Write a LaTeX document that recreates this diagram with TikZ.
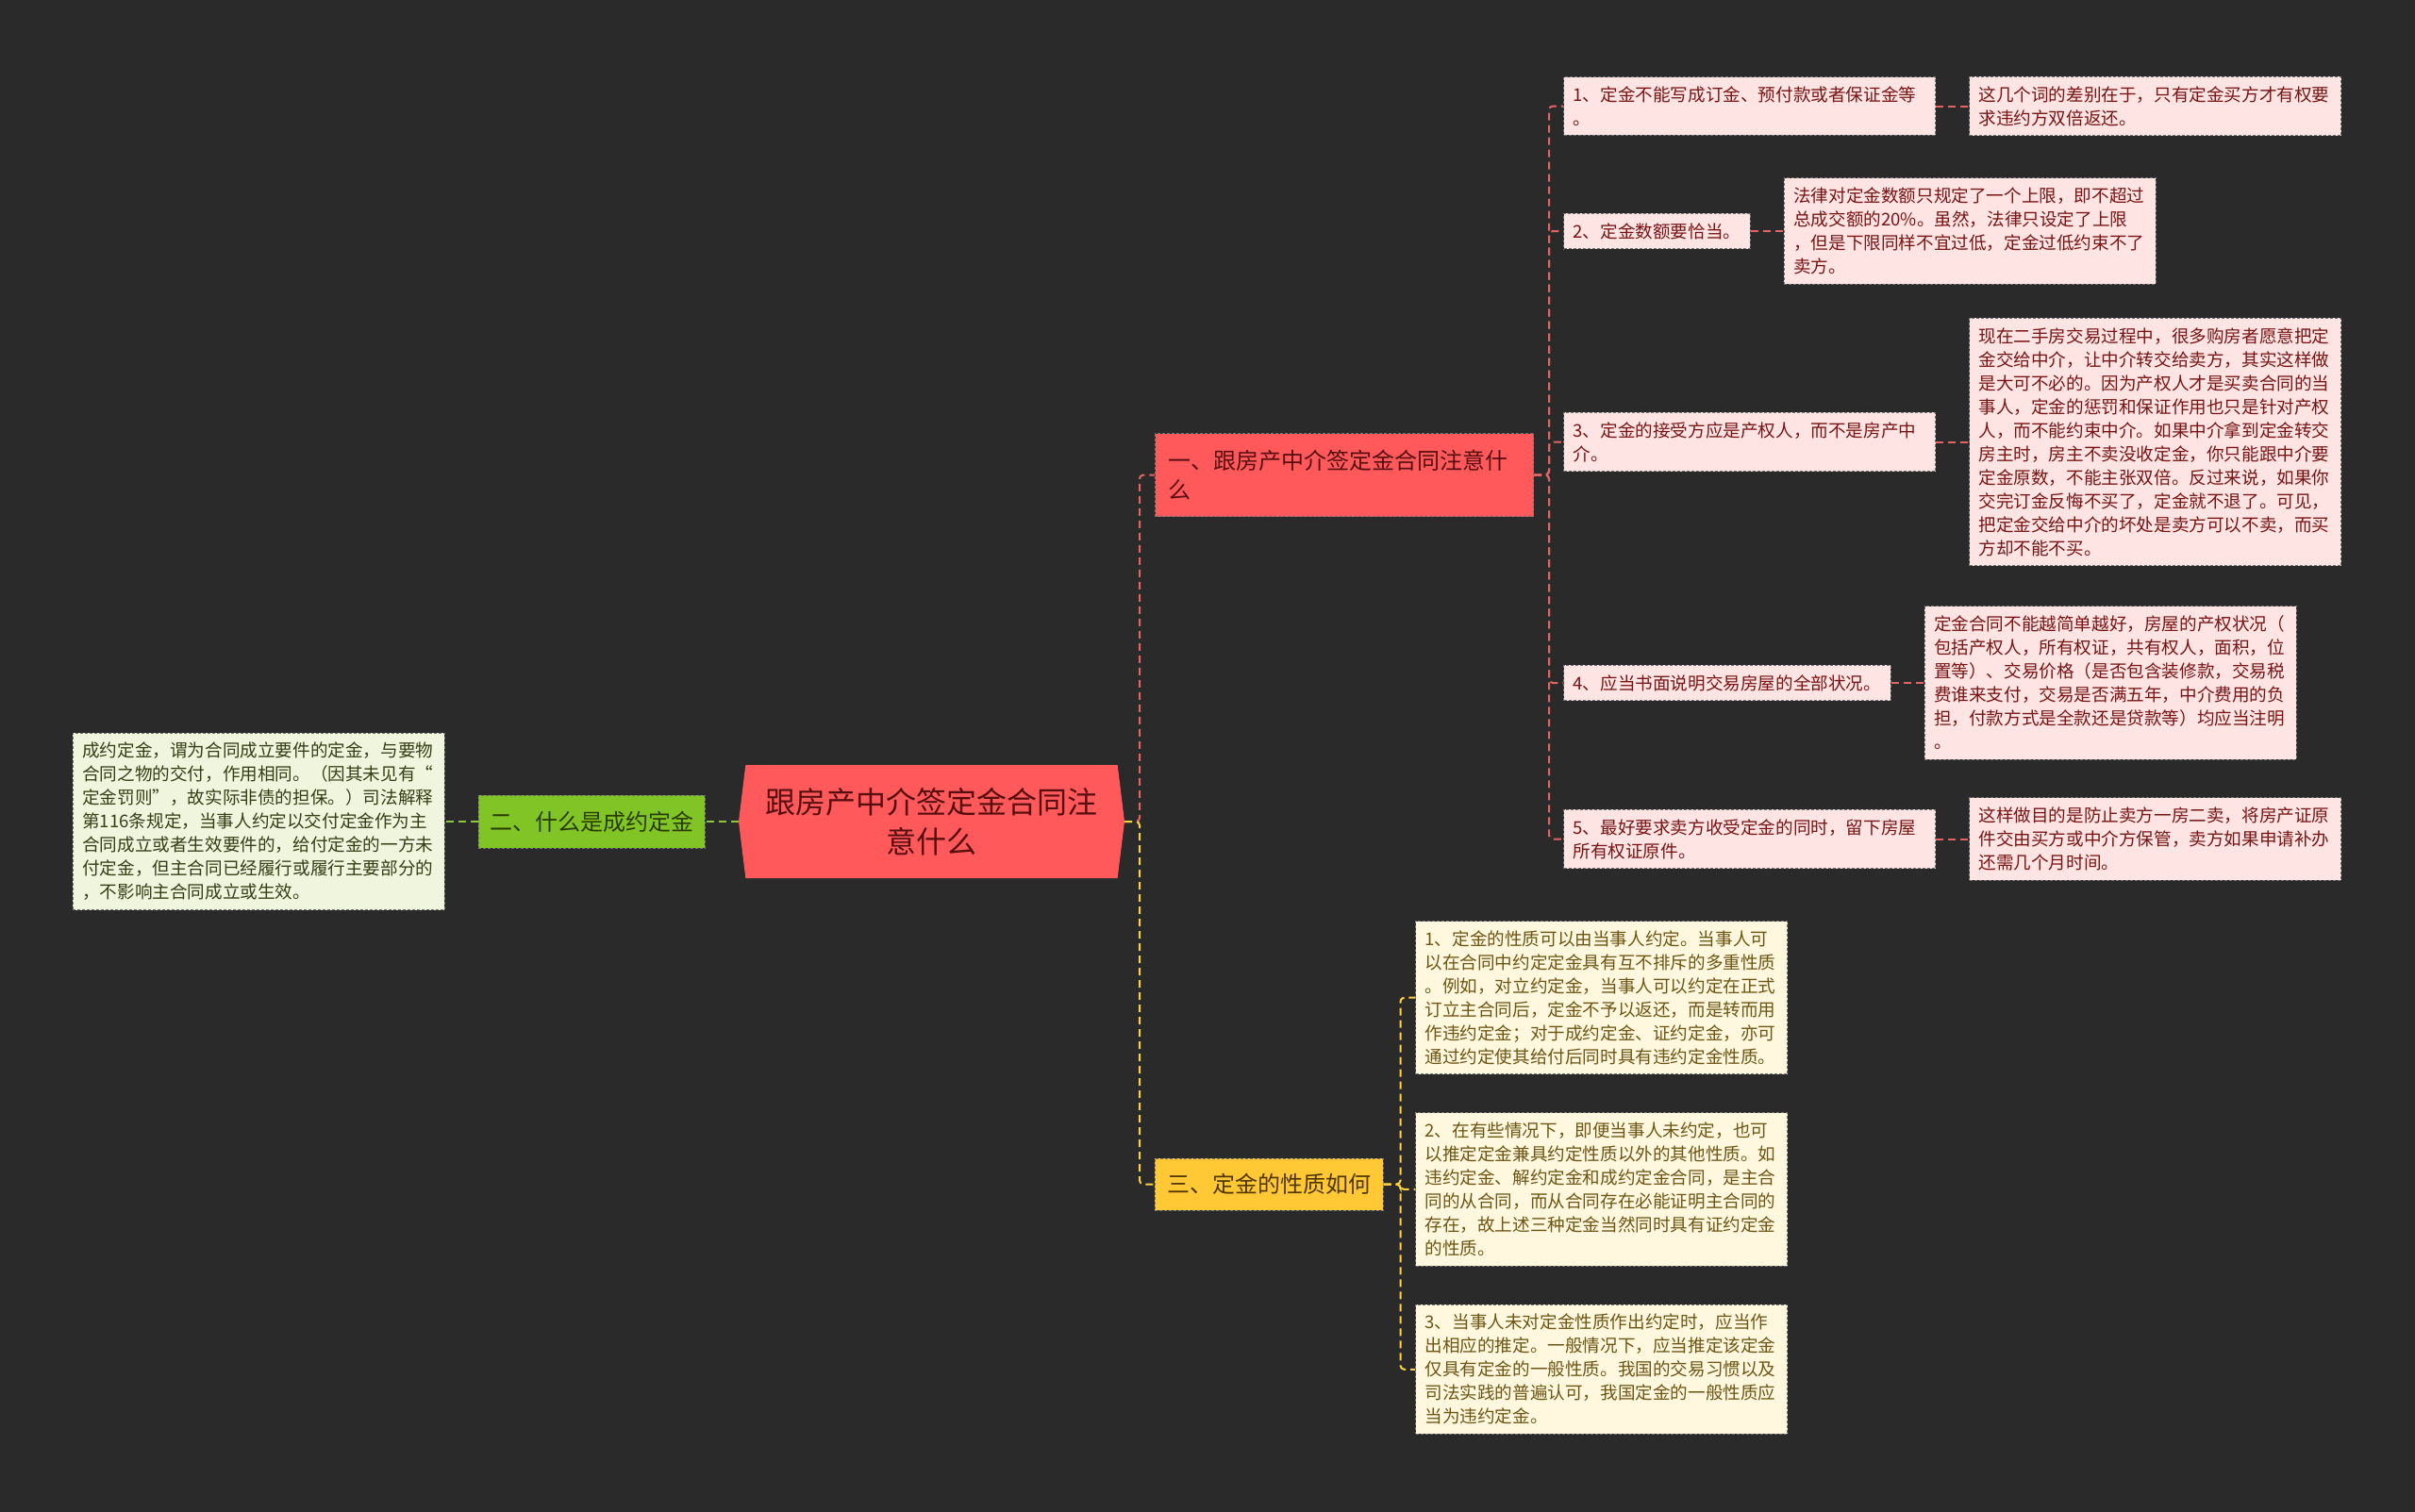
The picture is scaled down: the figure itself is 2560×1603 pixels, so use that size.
\documentclass[tikz,border=0pt]{standalone}
\usepackage{fontspec}
\setmainfont{Noto Sans CJK SC}
\usetikzlibrary{positioning,shapes.symbols}

\definecolor{bgcol}{RGB}{42,42,42}
\definecolor{rootred}{RGB}{255,89,92}
\definecolor{roottext}{RGB}{88,14,14}
\definecolor{pinkfill}{RGB}{255,228,228}
\definecolor{pinktext}{RGB}{120,20,20}
\definecolor{grnfill}{RGB}{128,196,38}
\definecolor{grntext}{RGB}{40,60,0}
\definecolor{paleGrn}{RGB}{240,246,222}
\definecolor{paleGrnText}{RGB}{52,62,22}
\definecolor{yelfill}{RGB}{255,200,52}
\definecolor{yeltext}{RGB}{80,55,0}
\definecolor{paleYel}{RGB}{255,248,222}
\definecolor{paleYelText}{RGB}{110,85,20}
\definecolor{clrRed}{RGB}{228,100,100}
\definecolor{clrGrn}{RGB}{140,200,60}
\definecolor{clrYel}{RGB}{255,210,60}

\newcommand{\leaffont}{\fontsize{18.6}{25}\selectfont}
\newcommand{\branchfont}{\fontsize{24}{31}\selectfont}
\newcommand{\rootfont}{\fontsize{32}{42}\selectfont}

\tikzset{
  leafbox/.style={draw=black!55, dash pattern=on 3pt off 2pt, line width=1pt,
    inner xsep=10pt, inner ysep=10pt, align=left, font=\leaffont},
  pinkbox/.style={leafbox, fill=pinkfill, text=pinktext},
  greenbox/.style={leafbox, fill=paleGrn, text=paleGrnText},
  yellowbox/.style={leafbox, fill=paleYel, text=paleYelText},
  branchbox/.style={draw=black!55, dash pattern=on 3pt off 2pt, line width=1pt,
    font=\branchfont, inner sep=0pt},
  reddash/.style={draw=clrRed, line width=2pt, dash pattern=on 8pt off 5pt, rounded corners=4pt},
  grndash/.style={draw=clrGrn, line width=2pt, dash pattern=on 8pt off 5pt},
  yeldash/.style={draw=clrYel, line width=2pt, dash pattern=on 8pt off 5pt, rounded corners=4pt},
}

\begin{document}
\begin{tikzpicture}[x=1pt, y=1pt]
    \fill[bgcol] (0,0) rectangle (2560,-1603);

    % root
    \node[signal, signal to=west and east, signal pointer angle=166, fill=rootred,
      text=roottext, font=\rootfont, align=center, minimum width=409pt,
      minimum height=120pt, inner sep=0pt] (root) at (987.5,-871)
      {跟房产中介签定金合同注\\意什么};

    % branches
    \node[branchbox, fill=rootred, text=roottext, anchor=north west, align=left,
      text width=373pt, inner xsep=14pt, minimum height=88pt] (b1) at (1224,-459)
      {一、跟房产中介签定金合同注意什\\么};
    \node[branchbox, fill=grnfill, text=grntext, minimum width=240pt,
      minimum height=56pt, left=35pt of root] (b2) {二、什么是成约定金};
    \node[branchbox, fill=yelfill, text=yeltext, minimum width=242pt,
      minimum height=55pt] (b3) at (1345,-1255.5) {三、定金的性质如何};

    % branch 1 items and notes
    \node[pinkbox, anchor=west, text width=374pt] (itm1) at (1657,-112.5)
      {1、定金不能写成订金、预付款或者保证金等\\。};
    \node[pinkbox, text width=374pt, right=35pt of itm1] (note1)
      {这几个词的差别在于，只有定金买方才有权要\\求违约方双倍返还。};
    \node[pinkbox, anchor=west] (itm2) at (1657,-245) {2、定金数额要恰当。};
    \node[pinkbox, text width=374pt, right=35pt of itm2] (note2)
      {法律对定金数额只规定了一个上限，即不超过\\总成交额的20\%。虽然，法律只设定了上限\\，但是下限同样不宜过低，定金过低约束不了\\卖方。};
    \node[pinkbox, anchor=west, text width=374pt] (itm3) at (1657,-468.5)
      {3、定金的接受方应是产权人，而不是房产中\\介。};
    \node[pinkbox, text width=374pt, right=35pt of itm3] (note3)
      {现在二手房交易过程中，很多购房者愿意把定\\金交给中介，让中介转交给卖方，其实这样做\\是大可不必的。因为产权人才是买卖合同的当\\事人，定金的惩罚和保证作用也只是针对产权\\人，而不能约束中介。如果中介拿到定金转交\\房主时，房主不卖没收定金，你只能跟中介要\\定金原数，不能主张双倍。反过来说，如果你\\交完订金反悔不买了，定金就不退了。可见，\\把定金交给中介的坏处是卖方可以不卖，而买\\方却不能不买。};
    \node[pinkbox, anchor=west] (itm4) at (1657,-724) {4、应当书面说明交易房屋的全部状况。};
    \node[pinkbox, text width=374pt, right=35pt of itm4] (note4)
      {定金合同不能越简单越好，房屋的产权状况（\\包括产权人，所有权证，共有权人，面积，位\\置等）、交易价格（是否包含装修款，交易税\\费谁来支付，交易是否满五年，中介费用的负\\担，付款方式是全款还是贷款等）均应当注明\\。};
    \node[pinkbox, anchor=west, text width=374pt] (itm5) at (1657,-889.5)
      {5、最好要求卖方收受定金的同时，留下房屋\\所有权证原件。};
    \node[pinkbox, text width=374pt, right=35pt of itm5] (note5)
      {这样做目的是防止卖方一房二卖，将房产证原\\件交由买方或中介方保管，卖方如果申请补办\\还需几个月时间。};

    % branch 2 leaf
    \node[greenbox, text width=374pt, left=35pt of b2] (gleaf)
      {成约定金，谓为合同成立要件的定金，与要物\\合同之物的交付，作用相同。（因其未见有“\\定金罚则”，故实际非债的担保。）司法解释\\第116条规定，当事人约定以交付定金作为主\\合同成立或者生效要件的，给付定金的一方未\\付定金，但主合同已经履行或履行主要部分的\\，不影响主合同成立或生效。};

    % branch 3 items
    \node[yellowbox, text width=374pt, anchor=north west] (yit1) at (1500,-976)
      {1、定金的性质可以由当事人约定。当事人可\\以在合同中约定定金具有互不排斥的多重性质\\。例如，对立约定金，当事人可以约定在正式\\订立主合同后，定金不予以返还，而是转而用\\作违约定金；对于成约定金、证约定金，亦可\\通过约定使其给付后同时具有违约定金性质。};
    \node[yellowbox, text width=374pt, below=40pt of yit1.south west, anchor=north west] (yit2)
      {2、在有些情况下，即便当事人未约定，也可\\以推定定金兼具约定性质以外的其他性质。如\\违约定金、解约定金和成约定金合同，是主合\\同的从合同，而从合同存在必能证明主合同的\\存在，故上述三种定金当然同时具有证约定金\\的性质。};
    \node[yellowbox, text width=374pt, below=40pt of yit2.south west, anchor=north west] (yit3)
      {3、当事人未对定金性质作出约定时，应当作\\出相应的推定。一般情况下，应当推定该定金\\仅具有定金的一般性质。我国的交易习惯以及\\司法实践的普遍认可，我国定金的一般性质应\\当为违约定金。};

    % connectors
    \coordinate (hub) at (1208,-871);
    \draw[reddash] (root.east) -- (hub) |- (b1.west);
    \draw[yeldash] (root.east) -- (hub) |- (b3.west);
    \draw[grndash] (root.west) -- (b2.east);
    \draw[grndash] (b2.west) -- (gleaf.east);
    \foreach \i in {1,...,5} {
        \draw[reddash] (b1.east) -- ++(16,0) |- (itm\i.west);
        \draw[reddash] (itm\i.east) -- (note\i.west);
    }
    \foreach \i in {1,2,3}
        \draw[yeldash] (b3.east) -- ++(18,0) |- (yit\i.west);
\end{tikzpicture}
\end{document}
